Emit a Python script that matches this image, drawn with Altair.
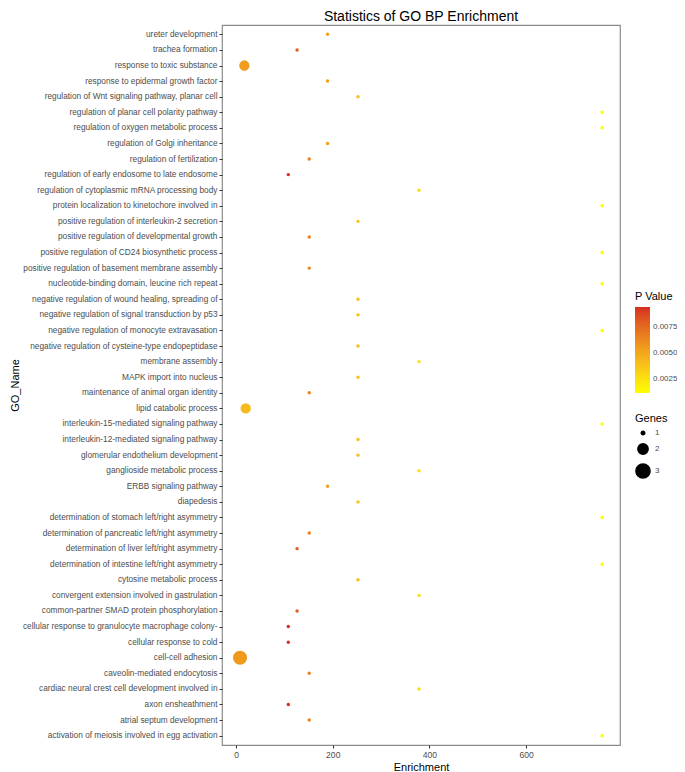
import altair as alt
import pandas as pd

go_names = [
    "ureter development",
    "trachea formation",
    "response to toxic substance",
    "response to epidermal growth factor",
    "regulation of Wnt signaling pathway, planar cell",
    "regulation of planar cell polarity pathway",
    "regulation of oxygen metabolic process",
    "regulation of Golgi inheritance",
    "regulation of fertilization",
    "regulation of early endosome to late endosome",
    "regulation of cytoplasmic mRNA processing body",
    "protein localization to kinetochore involved in",
    "positive regulation of interleukin-2 secretion",
    "positive regulation of developmental growth",
    "positive regulation of CD24 biosynthetic process",
    "positive regulation of basement membrane assembly",
    "nucleotide-binding domain, leucine rich repeat",
    "negative regulation of wound healing, spreading of ",
    "negative regulation of signal transduction by p53",
    "negative regulation of monocyte extravasation",
    "negative regulation of cysteine-type endopeptidase ",
    "membrane assembly",
    "MAPK import into nucleus",
    "maintenance of animal organ identity",
    "lipid catabolic process",
    "interleukin-15-mediated signaling pathway",
    "interleukin-12-mediated signaling pathway",
    "glomerular endothelium development",
    "ganglioside metabolic process",
    "ERBB signaling pathway",
    "diapedesis",
    "determination of stomach left/right asymmetry",
    "determination of pancreatic left/right asymmetry",
    "determination of liver left/right asymmetry",
    "determination of intestine left/right asymmetry",
    "cytosine metabolic process",
    "convergent extension involved in gastrulation",
    "common-partner SMAD protein phosphorylation",
    "cellular response to granulocyte macrophage colony-",
    "cellular response to cold",
    "cell-cell adhesion",
    "caveolin-mediated endocytosis",
    "cardiac neural crest cell development involved in",
    "axon ensheathment",
    "atrial septum development",
    "activation of meiosis involved in egg activation",
]

enrichment = [
    189.3, 126.2, 17.2, 189.3, 252.3, 757.0, 757.0, 189.3, 151.4, 108.1,
    378.5, 757.0, 252.3, 151.4, 757.0, 151.4, 757.0, 252.3, 252.3, 757.0,
    252.3, 378.5, 252.3, 151.4, 20.0, 757.0, 252.3, 252.3, 378.5, 189.3,
    252.3, 757.0, 151.4, 126.2, 757.0, 252.3, 378.5, 126.2, 108.1, 108.1,
    8.3, 151.4, 378.5, 108.1, 151.4, 757.0,
]

p_values = [
    0.0053, 0.0080, 0.0055, 0.0053, 0.0039, 0.0012, 0.0012, 0.0053, 0.0066, 0.0094,
    0.0026, 0.0012, 0.0039, 0.0066, 0.0012, 0.0066, 0.0012, 0.0039, 0.0039, 0.0012,
    0.0039, 0.0026, 0.0039, 0.0066, 0.0042, 0.0012, 0.0039, 0.0039, 0.0026, 0.0053,
    0.0039, 0.0012, 0.0066, 0.0080, 0.0012, 0.0039, 0.0026, 0.0080, 0.0094, 0.0094,
    0.0056, 0.0066, 0.0026, 0.0094, 0.0066, 0.0012,
]

genes = [
    1, 1, 2, 1, 1, 1, 1, 1, 1, 1,
    1, 1, 1, 1, 1, 1, 1, 1, 1, 1,
    1, 1, 1, 1, 2, 1, 1, 1, 1, 1,
    1, 1, 1, 1, 1, 1, 1, 1, 1, 1,
    3, 1, 1, 1, 1, 1,
]

df = pd.DataFrame({
    "GO_Name": go_names,
    "Enrichment": enrichment,
    "P Value": p_values,
    "Genes": genes,
})

FONT = "Liberation Sans"

chart = alt.Chart(df).mark_circle(opacity=1).encode(
    x=alt.X(
        "Enrichment:Q",
        scale=alt.Scale(domain=[-29, 794], nice=False, zero=False),
        axis=alt.Axis(values=[0, 200, 400, 600], grid=False, title="Enrichment"),
    ),
    y=alt.Y(
        "GO_Name:N",
        sort=go_names,
        scale=alt.Scale(padding=0.6),
        axis=alt.Axis(grid=False, title="GO_Name", labelLimit=400),
    ),
    color=alt.Color(
        "P Value:Q",
        scale=alt.Scale(range=["#FFFF00", "#D62D20"], interpolate="lab"),
        legend=alt.Legend(
            title="P Value",
            orient="none",
            legendX=413,
            legendY=266,
            direction="vertical",
            gradientLength=86,
            gradientThickness=15,
            labelOffset=3,
            values=[0.0025, 0.005, 0.0075],
            format=".4f",
        ),
    ),
    size=alt.Size(
        "Genes:Q",
        scale=alt.Scale(domain=[1, 3], range=[12, 200]),
        legend=alt.Legend(
            title="Genes",
            orient="none",
            legendX=413,
            legendY=388,
            values=[1, 2, 3],
            format=".0f",
            symbolFillColor="black",
            symbolStrokeColor="black",
            symbolType="circle",
        ),
    ),
).properties(
    width=398,
    height=720,
    title=alt.TitleParams(
        "Statistics of GO BP Enrichment",
        fontSize=14,
        fontWeight="normal",
        font=FONT,
        color="black",
        anchor="middle",
        offset=1,
    ),
    autosize=alt.AutoSizeParams(type="none"),
    padding={"left": 214, "top": 17, "right": 57, "bottom": 27},
).configure_view(
    stroke="#8c8c8c", strokeWidth=1.2
).configure_axis(
    domain=False,
    labelColor="#4D4D4D",
    labelFontSize=8.6,
    labelFont=FONT,
    tickColor="#333333",
    tickSize=3,
    titleFont=FONT,
    titleFontSize=11,
    titleFontWeight="normal",
    titleColor="black",
).configure_axisY(
    titlePadding=2,
    labelFontSize=8.3,
).configure_axisX(
    titlePadding=3,
    labelFontSize=8.6,
).configure_legend(
    titleFont=FONT,
    titleFontSize=11,
    titleFontWeight="normal",
    titleColor="black",
    labelFont=FONT,
    labelFontSize=8,
    labelColor="#4D4D4D",
)

chart.save("out.html", embed_options={"renderer": "svg", "actions": False})
